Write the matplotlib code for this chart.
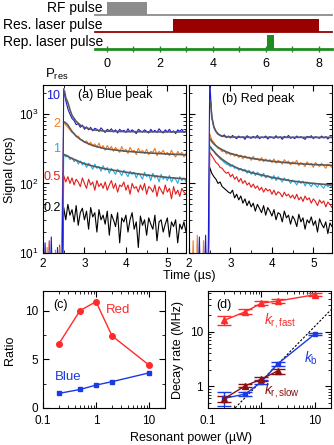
import numpy as np
import matplotlib.pyplot as plt
from matplotlib.ticker import LogLocator, NullFormatter, MultipleLocator, FixedLocator, FixedFormatter

plt.rcParams['font.family'] = ['Liberation Sans', 'DejaVu Sans']
plt.rcParams['font.size'] = 8.5
plt.rcParams['mathtext.fontset'] = 'custom'
plt.rcParams['mathtext.rm'] = 'Liberation Sans'
plt.rcParams['mathtext.it'] = 'Liberation Sans:italic'

# ---------------- data ----------------
# pulse sequence (us)
rf_pulse = (0.0, 1.5)
res_pulse = (2.5, 8.0)
rep_pulse = (6.03, 6.3)

# time bins (us)
t_pre = 2.0 + 0.05 * np.arange(10)
t_post = 2.5 + 0.05 * np.arange(60)

powers_res = ['10', '2', '1', '0.5', '0.2']

# (a) blue peak, counts (1 = zero counts, below axis)
blue_a_pre = [1, 14, 1, 1, 17, 1, 1, 12, 1, 1]
blue_a = [2300, 1550, 1180, 990, 860, 800, 700, 720, 640, 690,
          600, 650, 590, 640, 570, 620, 600, 560, 630, 580,
          540, 600, 570, 610, 550, 590, 530, 600, 560, 580,
          540, 610, 550, 590, 560, 520, 600, 570, 550, 590,
          560, 530, 600, 550, 580, 540, 610, 560, 530, 590,
          550, 600, 540, 570, 520, 590, 560, 600, 540, 570]
orange_a_pre = [1, 1, 12, 1, 1, 1, 11, 1, 1, 18]
orange_a = [780, 690, 640, 590, 540, 520, 470, 480, 430, 420,
            390, 410, 360, 390, 350, 370, 330, 380, 320, 350,
            300, 350, 310, 340, 290, 330, 300, 280, 340, 290,
            310, 270, 330, 290, 300, 260, 320, 280, 300, 270,
            310, 260, 290, 280, 320, 250, 290, 270, 300, 260,
            280, 250, 300, 260, 240, 290, 260, 280, 240, 270]
cyan_a_pre = [1, 1, 1, 11, 1, 1, 1, 1, 12, 1]
cyan_a = [265, 240, 250, 220, 235, 205, 220, 190, 210, 185,
          200, 170, 195, 180, 160, 190, 165, 175, 150, 180,
          155, 170, 140, 165, 150, 135, 160, 145, 130, 155,
          140, 125, 150, 135, 145, 120, 140, 130, 115, 145,
          125, 135, 110, 140, 120, 130, 105, 135, 115, 125,
          110, 130, 105, 120, 115, 100, 125, 110, 120, 105]
red_a_pre = [12, 1, 1, 15, 1, 1, 1, 1, 13, 1]
red_a = [130, 105, 125, 100, 120, 95, 115, 105, 90, 120,
         100, 85, 115, 95, 105, 80, 110, 90, 100, 85,
         105, 80, 95, 110, 85, 100, 75, 95, 90, 105,
         80, 95, 70, 100, 85, 90, 75, 95, 80, 100,
         70, 90, 85, 75, 95, 65, 90, 80, 70, 95,
         75, 85, 60, 90, 70, 80, 65, 85, 75, 70]
black_a_pre = [1, 1, 1, 1, 1, 1, 1, 1, 1, 1]
black_a = [45, 30, 50, 35, 42, 28, 48, 25, 38, 44,
           30, 40, 22, 45, 33, 38, 20, 42, 30, 35,
           26, 40, 18, 36, 30, 24, 38, 14, 32, 28,
           35, 20, 30, 38, 22, 28, 12, 34, 25, 30,
           18, 32, 26, 22, 35, 15, 28, 30, 20, 26,
           32, 17, 28, 24, 30, 14, 26, 22, 28, 20]

# (b) red peak
blue_b_pre = [12, 1, 1, 1, 1, 17, 1, 1, 18, 1]
blue_b = [3000, 900, 640, 560, 520, 490, 470, 500, 455, 480,
          450, 490, 460, 440, 480, 455, 470, 430, 485, 460,
          445, 475, 450, 490, 440, 465, 455, 480, 435, 470,
          460, 445, 485, 450, 470, 430, 475, 455, 490, 445,
          465, 440, 480, 455, 470, 450, 430, 475, 460, 485,
          440, 470, 455, 445, 480, 450, 470, 435, 465, 455]
orange_b_pre = [1, 1, 15, 1, 18, 1, 1, 15, 1, 1]
orange_b = [520, 420, 390, 350, 320, 310, 285, 300, 265, 280,
            255, 270, 245, 265, 235, 255, 225, 250, 230, 240,
            215, 245, 220, 230, 210, 235, 205, 225, 210, 220,
            200, 225, 195, 215, 205, 190, 220, 200, 210, 185,
            205, 195, 215, 180, 200, 190, 175, 205, 185, 195,
            170, 200, 185, 175, 195, 180, 165, 190, 180, 170]
cyan_b_pre = [1, 1, 1, 1, 1, 1, 1, 1, 1, 1]
cyan_b = [350, 320, 290, 260, 245, 225, 215, 200, 190, 185,
          175, 185, 165, 170, 155, 165, 150, 160, 140, 155,
          135, 150, 130, 145, 135, 125, 140, 120, 130, 125,
          115, 130, 110, 125, 115, 105, 120, 110, 115, 100,
          112, 105, 95, 110, 100, 108, 92, 105, 98, 90,
          102, 95, 88, 100, 92, 85, 98, 90, 95, 88]
red_b_pre = [1, 1, 1, 1, 1, 1, 1, 1, 1, 1]
red_b = [280, 250, 225, 200, 190, 170, 165, 150, 140, 145,
         125, 135, 115, 125, 105, 118, 100, 110, 95, 102,
         88, 98, 85, 92, 80, 88, 75, 85, 78, 82,
         70, 80, 68, 76, 72, 64, 75, 66, 70, 62,
         68, 60, 70, 58, 64, 55, 66, 58, 62, 52,
         60, 55, 48, 58, 52, 56, 46, 54, 50, 45]
black_b_pre = [1, 1, 1, 1, 1, 1, 1, 1, 1, 1]
black_b = [170, 140, 125, 115, 100, 105, 90, 85, 80, 75,
           72, 80, 62, 70, 58, 66, 52, 60, 48, 56,
           46, 52, 40, 50, 44, 38, 48, 35, 45, 40,
           34, 42, 30, 38, 36, 28, 40, 32, 35, 26,
           34, 30, 24, 36, 28, 32, 22, 30, 27, 33,
           25, 29, 20, 31, 26, 23, 28, 19, 27, 24]

# fits (gray)
fit_t_a = [2.52, 2.55, 2.6, 2.65, 2.7, 2.8, 2.9, 3.0, 3.2, 3.5, 4.0, 4.5, 5.0, 5.45]
fit_blue_a = [2100, 1700, 1450, 1150, 950, 780, 690, 640, 590, 565, 555, 552, 550, 550]
fit_orange_a = [760, 740, 690, 620, 560, 480, 430, 395, 350, 315, 290, 275, 265, 258]
fit_cyan_a = [258, 255, 245, 236, 228, 215, 203, 192, 178, 162, 145, 132, 122, 116]
fit_t_b = [2.52, 2.55, 2.6, 2.65, 2.7, 2.8, 2.9, 3.0, 3.2, 3.5, 4.0, 4.5, 5.0, 5.45]
fit_blue_b = [1500, 900, 650, 560, 510, 480, 470, 465, 462, 460, 460, 460, 460, 460]
fit_orange_b = [430, 400, 370, 348, 330, 305, 285, 270, 250, 230, 208, 195, 187, 182]
fit_cyan_b = [330, 310, 290, 268, 250, 222, 202, 185, 163, 143, 122, 108, 100, 95]

# (c) ratio vs resonant power (uW)
power = [0.2, 0.5, 1, 2, 10]
ratio_red = [6.6, 10.0, 10.9, 7.4, 4.4]
ratio_blue = [1.5, 1.9, 2.35, 2.7, 3.6]

# (d) decay rates (MHz)
k_fast = [16, 23, 33, 36, 47]
k_fast_err = [3, 2.5, 3, 3, 3]
k_b = [0.6, 0.72, 1.2, 2.55, 9.0]
k_b_err = [0.17, 0.06, 0.1, 0.2, 0.4]
power_slow = [0.2, 0.5, 1, 2]
k_slow = [0.59, 1.02, 1.35, 1.9]
k_slow_err = [0.08, 0.06, 0.1, 0.2]
guide_slope = 1.25  # dashed linear guide, MHz per uW
guide_x = [0.1, 20]

# ---------------- colours ----------------
c_blue = '#1a1ad2'
c_orange = '#f27a22'
c_cyan = '#22aee8'
c_red = '#e41c1c'
c_black = '#000000'
c_fit = '#5a5a5a'
c_red2 = '#ff2a2a'
c_blue2 = '#1a3ae6'
c_dred = '#8b1010'
c_green = '#1f8c1f'

W, H = 334, 445
fig = plt.figure(figsize=(W / 100, H / 100), dpi=100)

# ---------------- pulse sequence ----------------
ax0 = fig.add_axes([95 / W, 1 - 49 / H, 237 / W, 49 / H])
ax0.set_xlim(-0.45, 8.5)
ax0.set_ylim(0, 49)
for s in ['top', 'right', 'left']:
    ax0.spines[s].set_visible(False)
ax0.spines['bottom'].set_color(c_green)
ax0.spines['bottom'].set_linewidth(2)
ax0.set_yticks([])
ax0.set_xticks(range(0, 9))
ax0.set_xticklabels([str(i) if i % 2 == 0 else '' for i in range(0, 9)])
ax0.tick_params(axis='x', direction='inout', length=5, width=1, color=c_green,
                pad=4, labelsize=9)
ax0.patch.set_alpha(0)
xl = ax0.get_xlim()
ax0.plot(xl, [34, 34], color='#8c8c8c', lw=1.3, clip_on=False)
ax0.fill_between(rf_pulse, 34, 47, color='#8c8c8c', lw=0)
ax0.plot(xl, [17, 17], color='#990000', lw=1.3, clip_on=False)
ax0.fill_between(res_pulse, 17, 30, color='#990000', lw=0)
ax0.fill_between(rep_pulse, 0, 14, color=c_green, lw=0)
ax0.text(-0.15, 41, 'RF pulse', ha='right', va='center', fontsize=10)
ax0.text(-0.15, 24, 'Res. laser pulse', ha='right', va='center', fontsize=10)
ax0.text(-0.15, 7, 'Rep. laser pulse', ha='right', va='center', fontsize=10)
fig.text(45 / W, 1 - 78 / H, r'P$_\mathrm{res}$', fontsize=9.5)

# ---------------- (a) and (b) traces ----------------
t_all = np.concatenate([t_pre, t_post])


def style_trace_axes(ax):
    ax.set_yscale('log')
    ax.set_xlim(2, 5.45)
    ax.set_ylim(10, 2600)
    ax.set_xticks([2, 3, 4, 5])
    ax.xaxis.set_minor_locator(MultipleLocator(0.5))
    ax.yaxis.set_minor_locator(LogLocator(base=10, subs=np.arange(2, 10)))
    ax.yaxis.set_minor_formatter(NullFormatter())
    ax.tick_params(which='both', direction='in', top=True, right=True)
    ax.tick_params(which='major', length=4, width=0.8)
    ax.tick_params(which='minor', length=2, width=0.6)


axa = fig.add_axes([43 / W, 1 - 253 / H, 143 / W, 168 / H])
traces_a = [(black_a_pre, black_a, c_black), (red_a_pre, red_a, c_red),
            (cyan_a_pre, cyan_a, c_cyan), (orange_a_pre, orange_a, c_orange),
            (blue_a_pre, blue_a, c_blue)]
for pre, post, c in traces_a:
    axa.plot(t_all, pre + post, color=c, lw=0.8)
for fit in [fit_blue_a, fit_orange_a, fit_cyan_a]:
    axa.plot(fit_t_a, fit, color=c_fit, lw=1.2)
style_trace_axes(axa)
axa.text(0.245, 0.94, '(a) Blue peak', transform=axa.transAxes, va='center', fontsize=9)
label_y = [1800, 720, 316, 122, 44]
for lab, y, c in zip(powers_res, label_y, [c_blue, c_orange, c_cyan, c_red, c_black]):
    axa.text(2.42, y, lab, color=c, ha='right', va='center', fontsize=9)

axb = fig.add_axes([189 / W, 1 - 253 / H, 143 / W, 168 / H])
traces_b = [(black_b_pre, black_b, c_black), (red_b_pre, red_b, c_red),
            (cyan_b_pre, cyan_b, c_cyan), (orange_b_pre, orange_b, c_orange),
            (blue_b_pre, blue_b, c_blue)]
for pre, post, c in traces_b:
    axb.plot(t_all, pre + post, color=c, lw=0.8)
for fit in [fit_blue_b, fit_orange_b, fit_cyan_b]:
    axb.plot(fit_t_b, fit, color=c_fit, lw=1.2)
style_trace_axes(axb)
axb.set_yticklabels([])
axb.text(0.23, 0.917, '(b) Red peak', transform=axb.transAxes, va='center', fontsize=9)

fig.text(10 / W, 1 - 170 / H, 'Signal (cps)', rotation=90, ha='center', va='center', fontsize=9)
fig.text(189 / W, 1 - 276 / H, 'Time (µs)', ha='center', va='center', fontsize=9)


# ---------------- (c) ratio ----------------
def style_power_axis(ax):
    ax.set_xscale('log')
    ax.set_xlim(0.1, 20)
    ax.xaxis.set_major_locator(FixedLocator([0.1, 1, 10]))
    ax.xaxis.set_major_formatter(FixedFormatter(['0.1', '1', '10']))
    ax.xaxis.set_minor_locator(LogLocator(base=10, subs=np.arange(2, 10)))
    ax.xaxis.set_minor_formatter(NullFormatter())
    ax.tick_params(which='both', direction='in', top=True, right=True)
    ax.tick_params(which='major', length=4, width=0.8)
    ax.tick_params(which='minor', length=2, width=0.6)
    ax.tick_params(axis='x', pad=5)


axc = fig.add_axes([43 / W, 1 - 408 / H, 122 / W, 117 / H])
axc.plot(power, ratio_red, color=c_red2, marker='o', ms=4, lw=1)
axc.plot(power, ratio_blue, color=c_blue2, marker='s', ms=3.5, lw=1)
style_power_axis(axc)
axc.set_ylim(0, 12)
axc.set_yticks([0, 5, 10])
axc.yaxis.set_minor_locator(MultipleLocator(2.5))
axc.text(0.08, 0.88, '(c)', transform=axc.transAxes, va='center', fontsize=9)
axc.text(1.55, 10.1, 'Red', color=c_red2, va='center', fontsize=9.5)
axc.text(0.17, 3.2, 'Blue', color=c_blue2, va='center', fontsize=9.5)
fig.text(10 / W, 1 - 350 / H, 'Ratio', rotation=90, ha='center', va='center', fontsize=9)

# ---------------- (d) decay rates ----------------
axd = fig.add_axes([208 / W, 1 - 408 / H, 123 / W, 117 / H])
axd.plot(guide_x, [guide_slope * x for x in guide_x], color='k', lw=0.8, ls=(0, (2, 1.5)))
axd.errorbar(power, k_fast, yerr=k_fast_err, color=c_red2, marker='^', ms=4, lw=1,
             capsize=5, elinewidth=1)
axd.errorbar(power, k_b, yerr=k_b_err, color=c_blue2, marker='s', ms=3.5, lw=1,
             capsize=5, elinewidth=1)
axd.errorbar(power_slow, k_slow, yerr=k_slow_err, color=c_dred, marker='^', ms=4, lw=1,
             capsize=5, elinewidth=1)
style_power_axis(axd)
axd.set_yscale('log')
axd.set_ylim(0.4, 55)
axd.yaxis.set_major_locator(FixedLocator([1, 10]))
axd.yaxis.set_major_formatter(FixedFormatter(['1', '10']))
axd.yaxis.set_minor_locator(LogLocator(base=10, subs=np.arange(2, 10)))
axd.yaxis.set_minor_formatter(NullFormatter())
axd.text(0.07, 0.88, '(d)', transform=axd.transAxes, va='center', fontsize=9)
axd.text(1.1, 16, r'$k_\mathrm{r,fast}$', color=c_red2, va='center', fontsize=10)
axd.text(6.3, 3.2, r'$k_\mathrm{b}$', color=c_blue2, va='center', fontsize=10)
axd.text(1.1, 0.85, r'$k_\mathrm{r,slow}$', color=c_dred, va='center', fontsize=10)
fig.text(178 / W, 1 - 350 / H, 'Decay rate (MHz)', rotation=90, ha='center', va='center', fontsize=9)

fig.text(191 / W, 1 - 438 / H, 'Resonant power (µW)', ha='center', va='center', fontsize=9)

fig.savefig('out.png', dpi=100)
